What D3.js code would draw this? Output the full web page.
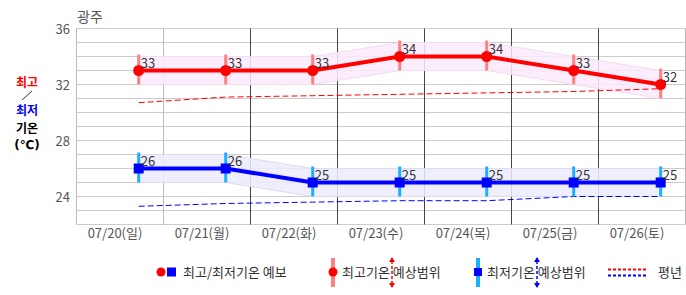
<!DOCTYPE html>
<html>
<head>
<meta charset="utf-8">
<script src="https://cdn.jsdelivr.net/npm/d3@7"></script>
<style>
  body { margin: 0; background: #fff; }
  text { font-family: "Noto Sans CJK KR", "Noto Sans", sans-serif; }
</style>
</head>
<body>
<script>
// data
var dates = ["07/20(일)", "07/21(월)", "07/22(화)", "07/23(수)", "07/24(목)", "07/25(금)", "07/26(토)"];
var hiTemp = [33, 33, 33, 34, 34, 33, 32];
var loTemp = [26, 26, 25, 25, 25, 25, 25];
var hiMin = [32, 32, 32, 33, 33, 32, 31];
var hiMax = [34, 34, 34, 35, 35, 34, 33];
var loMin = [25, 25, 24, 24, 24, 24, 24];
var loMax = [27, 27, 26, 26, 26, 26, 26];
var normHi = [30.7, 31.1, 31.2, 31.3, 31.4, 31.5, 31.7];
var normLo = [23.3, 23.5, 23.6, 23.7, 23.7, 24.0, 24.0];
var yTicks = [36, 32, 28, 24];

var W = 686, H = 295;
var svg = d3.select("body").append("svg")
	.attr("width", W)
	.attr("height", H);

var x = d3.scaleBand().domain(dates).range([76.5, 685.5]).padding(0);
var y = d3.scaleLinear().domain([22, 36]).range([224.5, 28.5]);
var px = function(i) { return x(dates[i]) + x.bandwidth() * 0.715; };

// horizontal grid every 1 degree
svg.selectAll(".hgrid")
	.data(d3.range(22, 37))
	.enter().append("line")
	.attr("x1", 76.5).attr("x2", 685.5)
	.attr("y1", function(d) { return y(d); })
	.attr("y2", function(d) { return y(d); })
	.attr("stroke", "#cccccc").attr("stroke-width", 1);

// vertical grid
var vx = d3.range(0, 8);
svg.selectAll(".vgrid")
	.data(vx)
	.enter().append("line")
	.attr("x1", function(d) { return d < 7 ? x(dates[d]) : 685.5; })
	.attr("x2", function(d) { return d < 7 ? x(dates[d]) : 685.5; })
	.attr("y1", 28.5).attr("y2", 224.5)
	.attr("stroke", function(d) { return (d >= 2 && d <= 6) ? "#444" : "#bbb"; })
	.attr("stroke-width", 1);

// y tick labels
svg.selectAll(".ytick")
	.data(yTicks)
	.enter().append("text")
	.attr("x", 70).attr("y", function(d) { return y(d) + 5; })
	.attr("text-anchor", "end")
	.attr("font-size", 13).attr("fill", "#555")
	.text(function(d) { return d; });

// x labels
svg.selectAll(".xlab")
	.data(dates)
	.enter().append("text")
	.attr("x", function(d) { return x(d) + x.bandwidth() / 2 - 5; })
	.attr("y", 238)
	.attr("text-anchor", "middle")
	.attr("font-size", 13).attr("fill", "#555")
	.text(function(d) { return d; });

// title
svg.append("text").attr("x", 77).attr("y", 22)
	.attr("font-size", 14).attr("fill", "#555").text("광주");

// left label
var leftLab = [
	{"t": "최고", "c": "#ff0000", "y": 87, "f": "Noto Sans CJK KR"},
	{"t": "최저", "c": "#0000ff", "y": 115, "f": "Noto Sans CJK KR"},
	{"t": "기온", "c": "#000", "y": 133, "f": "Noto Sans CJK KR"},
	{"t": "(℃)", "c": "#000", "y": 149, "f": "DejaVu Sans"}
];
svg.selectAll(".llab")
	.data(leftLab)
	.enter().append("text")
	.attr("x", 27).attr("y", function(d) { return d.y; })
	.attr("text-anchor", "middle")
	.attr("font-size", 12)
	.attr("font-weight", "bold")
	.style("font-family", function(d) { return d.f; })
	.attr("fill", function(d) { return d.c; })
	.text(function(d) { return d.t; });
svg.append("line").attr("x1", 22).attr("y1", 100).attr("x2", 32).attr("y2", 91)
	.attr("stroke", "#000").attr("stroke-width", 0.8);

var idx = d3.range(dates.length);

// range bands
var bandHi = d3.area()
	.x(function(i) { return px(i); })
	.y0(function(i) { return y(hiMin[i]); })
	.y1(function(i) { return y(hiMax[i]); });
var bandLo = d3.area()
	.x(function(i) { return px(i); })
	.y0(function(i) { return y(loMin[i]); })
	.y1(function(i) { return y(loMax[i]); });
svg.append("path").attr("d", bandHi(idx))
	.attr("fill", "#fbeafb").attr("fill-opacity", 0.85)
	.attr("stroke", "#f3dcef").attr("stroke-width", 1);
svg.append("path").attr("d", bandLo(idx))
	.attr("fill", "#ebebfb").attr("fill-opacity", 0.85)
	.attr("stroke", "#dcdcf0").attr("stroke-width", 1);

// normal lines
var normLine = function(arr) {
	return d3.line()
		.x(function(i) { return px(i); })
		.y(function(i) { return y(arr[i]); })(idx);
};
svg.append("path").attr("d", normLine(normHi))
	.attr("fill", "none").attr("stroke", "#ff0000").attr("stroke-width", 1)
	.attr("stroke-dasharray", "6,3");
svg.append("path").attr("d", normLine(normLo))
	.attr("fill", "none").attr("stroke", "#0000ff").attr("stroke-width", 1)
	.attr("stroke-dasharray", "6,3");

// range bars
svg.selectAll(".hibar")
	.data(idx).enter().append("line")
	.attr("x1", px).attr("x2", px)
	.attr("y1", function(i) { return y(hiMax[i]) - 2; })
	.attr("y2", function(i) { return y(hiMin[i]); })
	.attr("stroke", "#ff8080").attr("stroke-width", 3);
svg.selectAll(".lobar")
	.data(idx).enter().append("line")
	.attr("x1", px).attr("x2", px)
	.attr("y1", function(i) { return y(loMax[i]) - 2; })
	.attr("y2", function(i) { return y(loMin[i]); })
	.attr("stroke", "#1ab0ff").attr("stroke-width", 3);

// main lines
svg.append("path").attr("d", normLine(hiTemp))
	.attr("fill", "none").attr("stroke", "#ff0000").attr("stroke-width", 4);
svg.append("path").attr("d", normLine(loTemp))
	.attr("fill", "none").attr("stroke", "#0000ff").attr("stroke-width", 4);

svg.selectAll(".hipt")
	.data(idx).enter().append("circle")
	.attr("cx", px).attr("cy", function(i) { return y(hiTemp[i]); })
	.attr("r", 5.5).attr("fill", "#ff0000");
svg.selectAll(".lopt")
	.data(idx).enter().append("rect")
	.attr("x", function(i) { return px(i) - 5; })
	.attr("y", function(i) { return y(loTemp[i]) - 5; })
	.attr("width", 10).attr("height", 10)
	.attr("fill", "#0000ff");

// value labels
svg.selectAll(".hival")
	.data(idx).enter().append("text")
	.attr("x", function(i) { return px(i) + 2; })
	.attr("y", function(i) { return y(hiTemp[i]) - 3; })
	.attr("font-size", 13).attr("fill", "#333")
	.text(function(i) { return hiTemp[i]; });
svg.selectAll(".loval")
	.data(idx).enter().append("text")
	.attr("x", function(i) { return px(i) + 2; })
	.attr("y", function(i) { return y(loTemp[i]) - 3; })
	.attr("font-size", 13).attr("fill", "#333")
	.text(function(i) { return loTemp[i]; });

// legend
var lg = svg.append("g");
var ly = 272;
lg.append("circle").attr("cx", 161).attr("cy", ly).attr("r", 4.5).attr("fill", "#ff0000");
lg.append("rect").attr("x", 167).attr("y", ly - 4.5).attr("width", 9).attr("height", 9).attr("fill", "#0000ff");
lg.append("text").attr("x", 183).attr("y", ly + 5).attr("font-size", 13).attr("fill", "#333").text("최고/최저기온 예보");

lg.append("line").attr("x1", 333).attr("x2", 333).attr("y1", 258).attr("y2", 287)
	.attr("stroke", "#ff8080").attr("stroke-width", 4);
lg.append("circle").attr("cx", 333).attr("cy", ly).attr("r", 4.5).attr("fill", "#ff0000");
lg.append("text").attr("x", 342).attr("y", ly + 5).attr("font-size", 13).attr("fill", "#333").text("최고기온 예상범위");

lg.append("line").attr("x1", 478).attr("x2", 478).attr("y1", 258).attr("y2", 287)
	.attr("stroke", "#1ab0ff").attr("stroke-width", 4);
lg.append("rect").attr("x", 474).attr("y", ly - 4).attr("width", 8).attr("height", 8).attr("fill", "#0000ff");
lg.append("text").attr("x", 487).attr("y", ly + 5).attr("font-size", 13).attr("fill", "#333").text("최저기온 예상범위");

// double arrows
var arrow = function(ax, col) {
	lg.append("line").attr("x1", ax).attr("x2", ax).attr("y1", 261).attr("y2", 284)
		.attr("stroke", col).attr("stroke-width", 1.5).attr("stroke-dasharray", "3,2");
	lg.append("path").attr("d", "M" + (ax - 3) + ",262 L" + ax + ",257 L" + (ax + 3) + ",262 Z").attr("fill", col);
	lg.append("path").attr("d", "M" + (ax - 3) + ",283 L" + ax + ",288 L" + (ax + 3) + ",283 Z").attr("fill", col);
};
arrow(392, "#ff0000");
arrow(537, "#0000ff");

lg.append("line").attr("x1", 608).attr("x2", 647).attr("y1", 269.5).attr("y2", 269.5)
	.attr("stroke", "#ff0000").attr("stroke-width", 2).attr("stroke-dasharray", "3,2");
lg.append("line").attr("x1", 608).attr("x2", 647).attr("y1", 275.5).attr("y2", 275.5)
	.attr("stroke", "#0000ff").attr("stroke-width", 2).attr("stroke-dasharray", "3,2");
lg.append("text").attr("x", 658).attr("y", ly + 5).attr("font-size", 13).attr("fill", "#333").text("평년");
</script>
</body>
</html>
